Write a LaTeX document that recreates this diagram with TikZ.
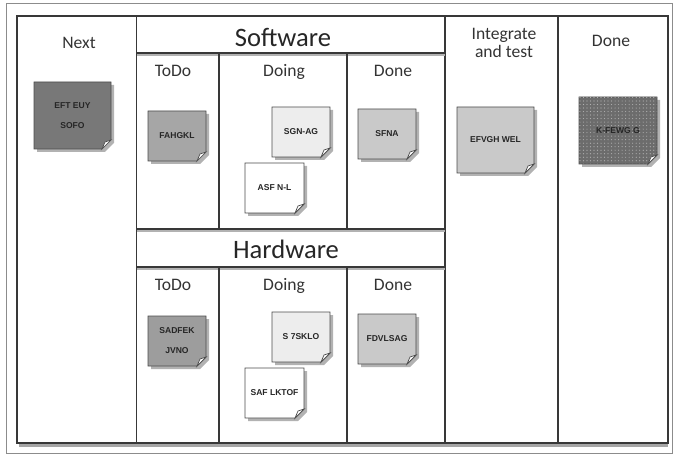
\documentclass[tikz,border=0pt]{standalone}
\usepackage{fontspec}
\setmainfont{Carlito}
\newfontfamily\notefont{Liberation Sans}
\usetikzlibrary{patterns}

\definecolor{boardline}{gray}{0.22}
\definecolor{notedark}{gray}{0.47}
\definecolor{notemid}{gray}{0.65}
\definecolor{notelight}{gray}{0.79}
\definecolor{notepale}{gray}{0.93}

% sticky note: name, x, y, width, height, fill style, text
\newcommand{\sticky}[7]{%
  \fill[black!30] (#2+3,#3+3) -- ++(#4,0) -- ++(0,#5-9) -- ++(-9,9) -- ++(-#4+9,0) -- cycle;
  \filldraw[note, #6] (#2,#3) -- ++(#4,0) -- ++(0,#5-9) -- ++(-9,9) -- ++(-#4+9,0) -- cycle;
  \filldraw[note, fill=white] (#2+#4,#3+#5-9) -- ++(-6,2) -- ++(-3,7) -- cycle;
  \node[notetext] (#1) at (#2+#4/2,#3+#5/2) {#7};
}

\begin{document}
\begin{tikzpicture}[x=0.03cm, y=-0.03cm,
    board/.style={draw=boardline, line width=1pt},
    note/.style={draw=black!70, line width=0.6pt},
    notetext/.style={font=\notefont\bfseries\fontsize{7.3}{17}\selectfont, align=center, text=black!85, inner sep=0pt},
    head/.style={font=\fontsize{15}{16}\selectfont, text=black!80, anchor=base, inner sep=0pt},
    bighead/.style={font=\fontsize{22.7}{24}\selectfont, text=black!85, anchor=base, inner sep=0pt}]
  \useasboundingbox (0,0) rectangle (673,456);
  \draw[black!45, line width=0.5pt] (6,3) rectangle (672,453);

  % board
  \fill[black!35] (19,443) rectangle (668,447);
  \draw[board] (17,16) rectangle (668,443);
  \draw[board] (136.5,16) -- (136.5,443);
  \draw[board] (445,16) -- (445,443);
  \draw[board] (558,16) -- (558,443);
  \draw[black!30, line width=1.5pt] (137,55) -- (445,55) (137,231) -- (445,231) (137,269) -- (445,269);
  \draw[board] (136.5,53) -- (445,53);
  \draw[board] (136.5,229) -- (445,229);
  \draw[board] (136.5,267) -- (445,267);
  \draw[board] (219,53) -- (219,229) (219,267) -- (219,443);
  \draw[board] (347,53) -- (347,229) (347,267) -- (347,443);
  \draw[boardline, line width=1.8pt] (136.5,443) -- (445,443);

  % headings
  \node[head] (next) at (79,49) {Next};
  \node[bighead] (software) at (283,47) {Software};
  \node[head] (swtodo) at (173,77) {ToDo};
  \node[head] (swdoing) at (284,77) {Doing};
  \node[head] (swdone) at (393,77) {Done};
  \node[bighead] (hardware) at (286,259) {Hardware};
  \node[head] (hwtodo) at (173,290) {ToDo};
  \node[head] (hwdoing) at (284,290) {Doing};
  \node[head] (hwdone) at (393,290) {Done};
  \node[font=\fontsize{15}{16}\selectfont, text=black!80, align=center, inner sep=0pt] (integ) at (504,43) {Integrate\\and test};
  \node[head] (done) at (611,47) {Done};

  % notes
  \sticky{nextnote}{34}{82}{77}{67}{fill=notedark}{EFT EUY\\SOFO}
  \sticky{swtodonote}{148}{111}{58}{50}{fill=notemid}{FAHGKL}
  \sticky{swdoingnoteA}{272}{107}{58}{50}{fill=notepale}{SGN-AG}
  \sticky{swdoingnoteB}{245}{163}{59}{50}{fill=white}{ASF N-L}
  \sticky{swdonenote}{358}{109}{58}{50}{fill=notelight}{SFNA}
  \sticky{integnote}{457}{107}{77}{66}{fill=notelight}{EFVGH WEL}
  \sticky{donenote}{579}{97}{78}{67}{fill=notedark!90!black, postaction={pattern=dots, pattern color=black!30}}{K-FEWG G}
  \sticky{hwtodonote}{148}{316}{58}{50}{fill=notemid!95!black}{SADFEK\\JVNO}
  \sticky{hwdoingnoteA}{272}{312}{58}{50}{fill=notepale}{S 7SKLO}
  \sticky{hwdoingnoteB}{245}{368}{59}{50}{fill=white}{SAF LKTOF}
  \sticky{hwdonenote}{358}{314}{58}{50}{fill=notelight}{FDVLSAG}
\end{tikzpicture}
\end{document}
